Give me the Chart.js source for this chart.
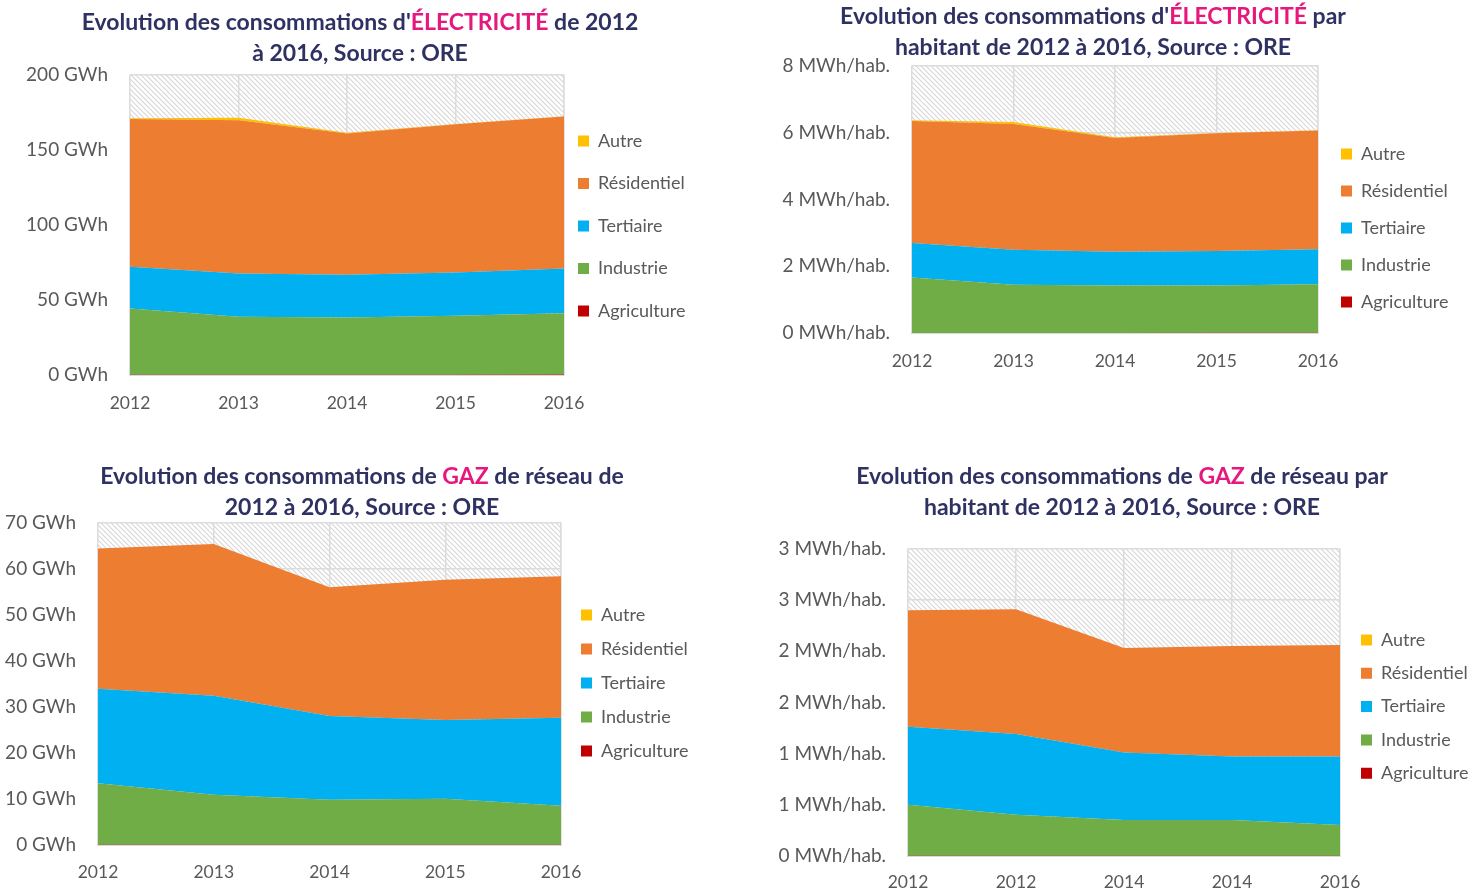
<!DOCTYPE html>
<html lang="fr">
<head>
<meta charset="utf-8">
<title>Consommations ORE 2012-2016</title>
<script src="https://cdn.jsdelivr.net/npm/chart.js@4.4.1/dist/chart.umd.min.js"></script>
<style>
  body { margin: 0; background: #fff; width: 1484px; height: 890px; position: relative; overflow: hidden;
         font-family: Lato, 'Open Sans', sans-serif; }
  .title { position: absolute; width: 740px; text-align: center; font-weight: 700; font-size: 23px;
           line-height: 31px; color: #2E3162; white-space: nowrap; z-index: 2; }
  .title em { font-style: normal; color: #E6177D; }
  canvas { position: absolute; }
</style>
</head>
<body>

<div class="title" style="left:-10px; top:6px;">Evolution des consommations d'<em>ÉLECTRICITÉ</em> de 2012<br>à 2016, Source : ORE</div>
<div class="title" style="left:723px; top:0px;">Evolution des consommations d'<em>ÉLECTRICITÉ</em> par<br>habitant de 2012 à 2016, Source : ORE</div>
<div class="title" style="left:-8px; top:460px;">Evolution des consommations de <em>GAZ</em> de réseau de<br>2012 à 2016, Source : ORE</div>
<div class="title" style="left:752px; top:460px;">Evolution des consommations de <em>GAZ</em> de réseau par<br>habitant de 2012 à 2016, Source : ORE</div>

<canvas id="elec"></canvas>
<canvas id="elecHab"></canvas>
<canvas id="gaz"></canvas>
<canvas id="gazHab"></canvas>

<script>
// --- data ---
const years = ['2012', '2013', '2014', '2015', '2016'];
const yearsGazHab = ['2012', '2012', '2014', '2014', '2016'];   // as printed on the source chart

const seriesNames = ['Agriculture', 'Industrie', 'Tertiaire', 'Résidentiel', 'Autre'];
const seriesColors = ['#C00000', '#70AD47', '#00B0F0', '#ED7D31', '#FFC000'];

// électricité, GWh
const elecAgri  = [0.1, 0.1, 0.1, 0.2, 0.3];
const elecIndus = [44.2, 38.7, 38.2, 39.3, 40.9];
const elecTert  = [27.8, 28.9, 28.5, 28.9, 29.8];
const elecResid = [98.5, 102.2, 94.2, 98.7, 101.3];
const elecAutre = [0.5, 1.6, 0.5, 0.3, 0.2];

// électricité, MWh/hab.
const elecHabAgri  = [0.003, 0.003, 0.003, 0.005, 0.008];
const elecHabIndus = [1.66, 1.44, 1.42, 1.42, 1.45];
const elecHabTert  = [1.03, 1.05, 1.01, 1.03, 1.05];
const elecHabResid = [3.66, 3.77, 3.41, 3.53, 3.56];
const elecHabAutre = [0.02, 0.06, 0.02, 0.01, 0.01];

// gaz, GWh
const gazAgri  = [0.05, 0.05, 0.05, 0.05, 0.05];
const gazIndus = [13.4, 10.9, 9.8, 10.0, 8.5];
const gazTert  = [20.5, 21.5, 18.2, 17.1, 19.1];
const gazResid = [30.5, 33.0, 28.0, 30.5, 30.8];
const gazAutre = [0, 0, 0, 0, 0];

// gaz, MWh/hab.
const gazHabAgri  = [0.002, 0.002, 0.002, 0.002, 0.002];
const gazHabIndus = [0.50, 0.40, 0.35, 0.35, 0.30];
const gazHabTert  = [0.76, 0.79, 0.66, 0.62, 0.67];
const gazHabResid = [1.14, 1.22, 1.02, 1.08, 1.09];
const gazHabAutre = [0, 0, 0, 0, 0];

const elecTicks    = ['0 GWh', '50 GWh', '100 GWh', '150 GWh', '200 GWh'];
const elecHabTicks = ['0 MWh/hab.', '2 MWh/hab.', '4 MWh/hab.', '6 MWh/hab.', '8 MWh/hab.'];
const gazTicks     = ['0 GWh', '10 GWh', '20 GWh', '30 GWh', '40 GWh', '50 GWh', '60 GWh', '70 GWh'];
const gazHabTicks  = ['0 MWh/hab.', '1 MWh/hab.', '1 MWh/hab.', '2 MWh/hab.', '2 MWh/hab.', '3 MWh/hab.', '3 MWh/hab.'];

// --- drawing ---
const FONT = "Lato, 'Open Sans', sans-serif";
const LEG_FS = 18;
const LEG_W = 60;
const GRID = '#dcdcdc';

// diagonal hatch tile for the plot background
const hatch = document.createElement('canvas');
hatch.width = hatch.height = 5;
(function () {
    const g = hatch.getContext('2d'), s = 5;
    g.strokeStyle = '#d6d6d6';
    g.lineWidth = 1.1;
    g.beginPath();
    g.moveTo(0, 0); g.lineTo(s, s);
    g.moveTo(s - 1, -1); g.lineTo(s + 1, 1);
    g.moveTo(-1, s - 1); g.lineTo(1, s + 1);
    g.stroke();
})();

const plotBg = {
    id: 'plotBg',
    beforeDraw(chart) {
        const { ctx, chartArea: a } = chart;
        ctx.save();
        ctx.fillStyle = ctx.createPattern(hatch, 'repeat');
        ctx.fillRect(a.left, a.top, a.right - a.left, a.bottom - a.top);
        ctx.strokeStyle = '#ededed';
        ctx.lineWidth = 1;
        ctx.strokeRect(a.left - 0.5, a.top - 0.5, a.right - a.left + 1, a.bottom - a.top + 1);
        ctx.restore();
    }
};

// put the legend column where the source chart has it
const legendPos = {
    id: 'legendPos',
    afterLayout(chart, args, opts) {
        const lg = chart.legend;
        const p = lg.options.labels.padding;
        lg.left = opts.x - p;
        lg.right = lg.left + 200;
        lg.top = opts.y - p - LEG_FS / 2;
        lg.bottom = lg.top + 400;
    }
};

function build(id, g, values, yMax, yStep, yLabels, xLabels) {
    // canvas starts well above the plot so the y tick padding never pushes the plot down
    const cy = g.t - 36;
    const h = g.bottom - cy;
    const canvas = document.getElementById(id);
    canvas.width = g.w;
    canvas.height = h;
    canvas.style.left = g.cx + 'px';
    canvas.style.top = cy + 'px';

    const datasets = values.map((data, i) => ({
        label: seriesNames[i],
        data: data,
        backgroundColor: seriesColors[i],
        borderColor: seriesColors[i],
        borderWidth: 0,
        pointRadius: 0,
        pointHoverRadius: 0,
        tension: 0,
        fill: i === 0 ? 'origin' : '-1'
    }));

    new Chart(canvas, {
        type: 'line',
        data: { labels: xLabels, datasets: datasets },
        options: {
            responsive: false,
            animation: false,
            layout: {
                padding: { left: 0, top: g.t - cy, right: g.w - (g.r - g.cx) - LEG_W, bottom: 0 }
            },
            plugins: {
                legend: {
                    position: 'right',
                    fullSize: false,
                    align: 'start',
                    reverse: true,
                    maxWidth: LEG_W,
                    labels: {
                        boxWidth: 11,
                        boxHeight: 11,
                        padding: g.legGap - LEG_FS,
                        color: '#595959',
                        font: { family: FONT, size: LEG_FS }
                    }
                },
                tooltip: { enabled: false },
                legendPos: { x: g.legX - g.cx, y: g.legY - cy }
            },
            scales: {
                x: {
                    offset: false,
                    grid: { color: GRID, lineWidth: 1.5, drawTicks: false },
                    border: { color: '#d9d9d9', width: 2 },
                    ticks: { color: '#595959', padding: g.xPad, maxRotation: 0, autoSkip: false,
                             font: { family: FONT, size: 17.5 } },
                    afterFit: s => { s.height = g.bottom - g.b; }
                },
                y: {
                    stacked: true,
                    min: 0,
                    max: yMax,
                    grid: { color: GRID, lineWidth: 1.5, drawTicks: false },
                    border: { display: false },
                    ticks: { stepSize: yStep, color: '#595959', padding: 22,
                             font: { family: FONT, size: 19 },
                             callback: (v, i) => yLabels[i] },
                    afterFit: s => { s.width = g.l - g.cx; }
                }
            }
        },
        plugins: [plotBg, legendPos]
    });
}

build('elec',
    { cx: 0, w: 740, bottom: 430, l: 130, t: 75, r: 564, b: 375, xPad: 18, legX: 578, legY: 141, legGap: 42.5 },
    [elecAgri, elecIndus, elecTert, elecResid, elecAutre], 200, 50, elecTicks, years);

build('elecHab',
    { cx: 740, w: 744, bottom: 390, l: 912, t: 66, r: 1318, b: 333, xPad: 18, legX: 1341, legY: 154, legGap: 37 },
    [elecHabAgri, elecHabIndus, elecHabTert, elecHabResid, elecHabAutre], 8, 2, elecHabTicks, years);

build('gaz',
    { cx: 0, w: 740, bottom: 890, l: 98, t: 523, r: 561, b: 845, xPad: 17, legX: 581, legY: 615, legGap: 34 },
    [gazAgri, gazIndus, gazTert, gazResid, gazAutre], 70, 10, gazTicks, years);

build('gazHab',
    { cx: 740, w: 744, bottom: 890, l: 908, t: 549, r: 1340, b: 856, xPad: 16, legX: 1361, legY: 640, legGap: 33.3 },
    [gazHabAgri, gazHabIndus, gazHabTert, gazHabResid, gazHabAutre], 3, 0.5, gazHabTicks, yearsGazHab);
</script>
</body>
</html>
